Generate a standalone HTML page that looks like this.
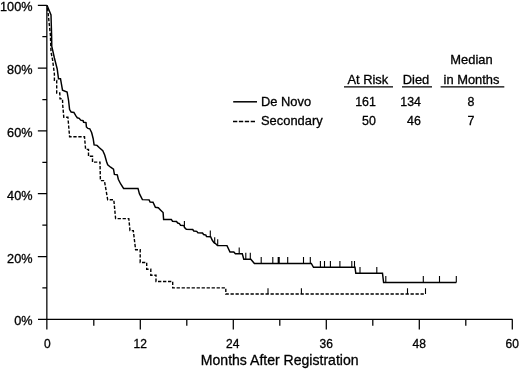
<!DOCTYPE html>
<html><head><meta charset="utf-8"><style>
html,body{margin:0;padding:0;background:#fff}
svg{display:block}
text{font-family:"Liberation Sans",Arial,sans-serif;fill:#000;stroke:#000;stroke-width:0.3px}
.t{font-size:12px}
.y{font-size:12.7px}
.l{font-size:12.9px}
.n{font-size:12.4px}
</style></head><body>
<svg width="520" height="369" viewBox="0 0 520 369">
<rect width="520" height="369" fill="#fff"/>
<path d="M46.85 5.3V329.5M38 319.3H512.5M93.8 319.3v6.5M140.3 319.3v10.2M186.8 319.3v6.5M233.3 319.3v10.2M279.8 319.3v6.5M326.3 319.3v10.2M372.8 319.3v6.5M419.3 319.3v10.2M465.8 319.3v6.5M512.3 319.3v10.2M46.85 5.3h-9M46.85 36.7h-4.5M46.85 68.1h-9M46.85 99.5h-4.5M46.85 130.9h-9M46.85 162.3h-4.5M46.85 193.7h-9M46.85 225.1h-4.5M46.85 256.5h-9M46.85 287.9h-4.5" fill="none" stroke="#000" stroke-width="1.25"/>
<polyline points="47.0,5.3 51.0,15.0 51.6,35.0 51.8,46.5 54.4,58.0 57.2,69.0 58.5,78.7 60.5,78.7 62.5,90.2 67.1,92.0 68.5,100.0 69.6,109.6 71.1,112.0 73.9,112.5 75.9,115.9 77.3,117.8 79.2,118.3 80.7,120.2 83.1,120.7 83.6,122.3 86.0,122.6 86.4,126.9 87.9,128.4 89.8,128.8 91.7,132.7 93.2,138.7 94.1,144.9 97.0,145.4 99.4,147.8 102.8,150.7 104.7,155.0 106.6,161.7 107.7,164.8 110.6,167.2 113.5,169.1 114.4,174.4 117.3,174.9 118.3,179.2 120.7,184.0 123.6,188.4 138.0,188.4 139.4,193.7 142.4,199.6 149.1,199.9 150.1,202.0 153.0,202.3 155.4,207.3 158.3,207.8 160.7,210.2 163.1,212.6 163.6,219.4 171.3,219.4 172.5,221.2 176.5,221.5 177.7,223.0 179.4,223.5 180.6,225.3 184.0,225.6 184.6,227.6 186.3,229.3 192.7,229.5 193.8,231.0 196.7,231.4 197.9,232.8 202.5,233.0 203.6,234.5 205.9,235.1 206.5,236.5 210.6,236.8 212.3,240.3 214.0,242.6 215.7,243.7 217.5,245.6 227.0,245.6 230.0,252.0 233.8,252.0 235.4,253.8 242.3,253.8 243.8,259.2 250.8,259.2 254.4,263.5 311.3,263.5 313.5,267.3 355.0,267.3 355.8,273.3 382.5,273.3 383.6,282.5 456.3,282.5" fill="none" stroke="#000" stroke-width="1.45" stroke-linejoin="miter"/>
<polyline points="47.5,8.0 48.0,12.0 50.4,35.0 51.0,52.0 52.6,60.0 54.4,74.0 54.4,80.4 56.7,80.4 56.7,93.0 59.8,93.0 60.0,98.8 62.5,98.8 62.7,105.0 63.8,117.3 67.9,117.3 69.6,136.7 84.5,136.7 85.6,149.4 88.5,149.4 88.5,156.3 92.5,156.3 92.5,162.1 100.0,162.1 100.4,180.6 104.4,180.6 107.7,199.8 113.8,199.8 115.6,218.6 128.8,218.6 130.0,230.6 133.3,230.6 135.6,249.8 140.2,249.8 140.2,262.5 146.7,262.5 146.7,269.2 150.8,269.2 150.8,275.2 156.0,275.2 156.0,281.5 172.7,281.5 172.7,287.9 225.8,287.9 225.8,294.0 425.5,294.0" fill="none" stroke="#000" stroke-width="1.4" stroke-dasharray="3.3 1.7"/>
<path d="M184.4 227.4v-6.4M210.3 237.0v-6.4M214.7 243.6v-6.4M217.7 245.6v-6.4M239.2 253.8v-6.4M245.8 259.2v-6.4M250.3 259.2v-6.4M261.2 263.5v-6.4M272.8 263.5v-6.4M278.2 263.5v-6.4M279.2 263.5v-6.4M287.7 263.5v-6.4M303.5 263.5v-6.4M310.3 263.5v-6.4M320.4 267.3v-6.4M324.5 267.3v-6.4M330.4 267.3v-6.4M339.9 267.3v-6.4M351.8 267.3v-6.4M354.5 267.3v-6.4M360.0 273.3v-6.4M376.8 273.3v-6.4M385.8 282.5v-6.4M423.3 282.5v-6.4M439.5 282.5v-6.4M456.3 282.5v-6.4M268.0 294.0v-5.8M301.4 294.0v-5.8M407.5 294.0v-5.8M425.5 294.0v-5.8" fill="none" stroke="#000" stroke-width="1.1"/>
<g class="y" text-anchor="end">
<text x="32.5" y="11.3">100%</text>
<text x="32.5" y="74.1">80%</text>
<text x="32.5" y="136.9">60%</text>
<text x="32.5" y="199.7">40%</text>
<text x="32.5" y="262.5">20%</text>
<text x="32.5" y="325.3">0%</text>
</g>
<g class="t" text-anchor="middle">
<text x="47.3" y="347.5">0</text>
<text x="140.3" y="347.5">12</text>
<text x="232.8" y="347.5">24</text>
<text x="326.3" y="347.5">36</text>
<text x="419.3" y="347.5">48</text>
<text x="512.2" y="347.5">60</text>
</g>
<text x="279.7" y="365" text-anchor="middle" style="font-size:14.05px">Months After Registration</text>
<path d="M233.2 101.8H257" stroke="#000" stroke-width="1.5"/>
<path d="M233 121.4H255" stroke="#000" stroke-width="1.5" stroke-dasharray="4.3 1.6"/>
<g class="l">
<text x="261" y="105.6">De Novo</text>
<text x="261" y="125.1">Secondary</text>
<text x="367.8" y="84.2" text-anchor="middle">At Risk</text>
<text x="416" y="84.2" text-anchor="middle">Died</text>
<text x="471.5" y="63.8" text-anchor="middle">Median</text>
<text x="471.5" y="84.2" text-anchor="middle">in Months</text>
<text class="n" x="365.5" y="105.6" text-anchor="middle">161</text>
<text class="n" x="369" y="125.1" text-anchor="middle">50</text>
<text class="n" x="410.6" y="105.6" text-anchor="middle">134</text>
<text class="n" x="414" y="125.1" text-anchor="middle">46</text>
<text class="n" x="471" y="105.6" text-anchor="middle">8</text>
<text class="n" x="471" y="125.1" text-anchor="middle">7</text>
</g>
<path d="M344 86.9H393M402 86.9H432M440.6 86.9H504.3" stroke="#000" stroke-width="1.2"/>
</svg>
</body></html>
